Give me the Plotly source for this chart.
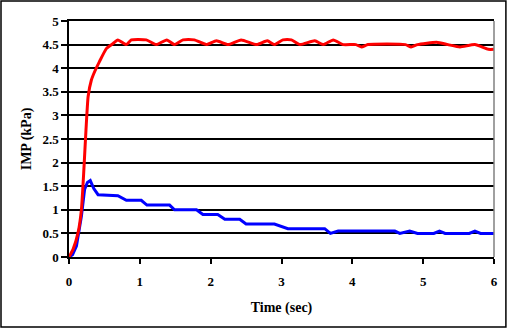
import plotly.graph_objects as go

# Red series (upper curve)
red_t = [0, 0.057, 0.127, 0.175, 0.21, 0.24, 0.27, 0.316, 0.363, 0.43, 0.53, 0.62, 0.69, 0.81, 0.88,
         1.09, 1.23, 1.38, 1.49, 1.61, 1.77, 1.94, 2.08, 2.245, 2.43, 2.65, 2.80, 2.90, 3.02, 3.14,
         3.26, 3.47, 3.59, 3.73, 3.87, 4.05, 4.13, 4.22, 4.75, 4.83, 4.92, 5.19, 5.35, 5.52, 5.73,
         5.92, 6.0]
red_v = [0, 0.16, 0.51, 1.0, 1.85, 2.7, 3.4, 3.75, 3.93, 4.14, 4.42, 4.52, 4.6, 4.5, 4.6,
         4.6, 4.5, 4.6, 4.5, 4.6, 4.6, 4.5, 4.58, 4.5, 4.6, 4.5, 4.58, 4.5, 4.6, 4.6,
         4.5, 4.58, 4.5, 4.6, 4.5, 4.5, 4.45, 4.5, 4.5, 4.45, 4.5, 4.55, 4.5, 4.45, 4.5,
         4.4, 4.4]

# Blue series (lower curve)
blue_t = [0, 0.05, 0.105, 0.175, 0.22, 0.26, 0.30, 0.35, 0.41, 0.69, 0.81, 1.02, 1.10, 1.42, 1.49,
          1.80, 1.89, 2.10, 2.20, 2.41, 2.50, 2.90, 3.09, 3.61, 3.69, 3.80, 4.60, 4.67, 4.81, 4.92,
          5.15, 5.23, 5.31, 5.65, 5.73, 5.81, 6.0]
blue_v = [0, 0.05, 0.23, 0.86, 1.43, 1.58, 1.62, 1.45, 1.32, 1.3, 1.2, 1.2, 1.1, 1.1, 1.0,
          1.0, 0.9, 0.9, 0.8, 0.8, 0.7, 0.7, 0.6, 0.6, 0.5, 0.55, 0.55, 0.5, 0.55, 0.5,
          0.5, 0.55, 0.5, 0.5, 0.55, 0.5, 0.5]

x_ticks = [0, 1, 2, 3, 4, 5, 6]
y_ticks = [0, 0.5, 1, 1.5, 2, 2.5, 3, 3.5, 4, 4.5, 5]
y_labels = ["0", "0.5", "1", "1.5", "2", "2.5", "3", "3.5", "4", "4.5", "5"]

FONT = "Times New Roman, Liberation Serif, serif"

fig = go.Figure()
fig.add_trace(go.Scatter(x=blue_t, y=blue_v, mode="lines",
                         line=dict(color="#0000FF", width=3), showlegend=False))
fig.add_trace(go.Scatter(x=red_t, y=red_v, mode="lines",
                         line=dict(color="#FF0000", width=3, shape="spline", smoothing=0.5),
                         showlegend=False))

fig.update_layout(
    width=509, height=332,
    margin=dict(l=69, r=15, t=21, b=75),
    paper_bgcolor="white", plot_bgcolor="white",
    font=dict(family=FONT, size=13, color="black"),
    xaxis=dict(
        range=[0, 6], tickvals=x_ticks, ticks="outside", ticklen=5, tickwidth=1.5,
        tickcolor="black", showline=True, linecolor="black", linewidth=1.5, mirror=True,
        showgrid=False, zeroline=False, automargin=False,
        tickfont=dict(family=FONT, size=13, color="black", weight="bold"),
        ticklabelstandoff=7,
        title=dict(text="Time (sec)", font=dict(family=FONT, size=14, weight="bold"), standoff=14),
    ),
    yaxis=dict(
        range=[0, 5], tickvals=y_ticks, ticktext=y_labels, ticks="outside", ticklen=6,
        tickwidth=1.5, tickcolor="black", showline=True, linecolor="black", linewidth=1.5,
        showgrid=True, gridcolor="black", gridwidth=2, zeroline=False, automargin=False,
        tickfont=dict(family=FONT, size=13, color="black", weight="bold"),
        ticksuffix="\u00a0\u00a0\u00a0", ticklabelstandoff=0,
        title=dict(text="IMP (kPa)", font=dict(family=FONT, size=14, weight="bold"), standoff=8),
    ),
    shapes=[
        dict(type="line", xref="paper", yref="paper", x0=1, x1=1, y0=0, y1=1,
             line=dict(color="#808080", width=1.5)),
        dict(type="rect", xref="paper", yref="paper", x0=-0.16, x1=1.028, y0=-0.2966, y1=1.0847,
             line=dict(color="black", width=1.5)),
    ],
)

fig.write_html("out.html", config={"displayModeBar": False},
               post_script="document.body.style.margin='0';document.body.style.overflow='hidden';")
